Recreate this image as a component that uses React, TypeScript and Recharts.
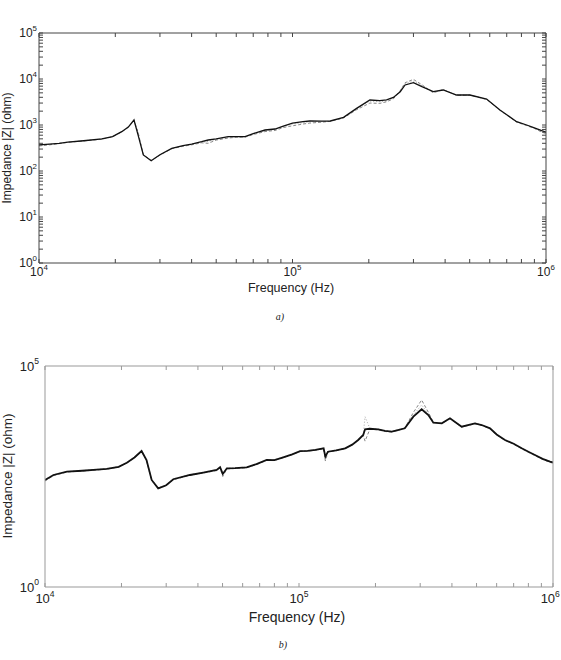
import React from 'react';
import { LineChart, Line, XAxis, YAxis } from 'recharts';

// ---- a) impedance sweep, three measurements ----
const freqA = [
  10000, 11000, 12000, 13000, 15000, 17700, 19500, 21200, 22500, 23700,
  24600, 25800, 27700, 30000, 33400, 37000, 40000, 43800, 46500, 50000,
  55800, 60000, 65000, 70000, 77900, 85300, 92000, 100000, 110000, 117000,
  130000, 141000, 159000, 179000, 202000, 221000, 235000, 250000, 266000, 278000,
  300000, 324000, 359000, 393000, 444000, 501000, 583000, 658000, 766000, 839000,
  900000, 962000, 1000000,
];
const zA1 = [
  370, 385, 400, 425, 455, 497, 560, 716, 900, 1285,
  600, 223, 167, 225, 311, 355, 385, 433, 472, 500,
  557, 560, 557, 650, 778, 818, 950, 1100, 1180, 1222,
  1210, 1222, 1469, 2302, 3491, 3373, 3500, 3985, 5297, 7413,
  8318, 6800, 5297, 5768, 4487, 4487, 3673, 2119, 1180, 1000,
  870, 751, 700,
];
const zA2 = [
  350, 370, 395, 420, 450, 490, 555, 710, 890, 1260,
  690, 225, 170, 222, 305, 345, 370, 410, 400, 470,
  520, 540, 545, 620, 720, 760, 880, 960, 1050, 1100,
  1150, 1200, 1420, 2150, 3000, 2950, 3200, 3700, 5600, 8300,
  9800, 7500, 5000, 5900, 4400, 4450, 3600, 2100, 1150, 970,
  840, 700, 650,
];
const zA3 = [
  360, 380, 400, 425, 455, 495, 560, 715, 895, 1270,
  695, 222, 168, 224, 310, 350, 380, 420, 440, 490,
  540, 550, 550, 640, 750, 800, 920, 1050, 1120, 1170,
  1180, 1210, 1450, 2250, 3300, 3200, 3350, 3850, 5500, 7900,
  9000, 7200, 5150, 5800, 4450, 4470, 3650, 2110, 1170, 990,
  860, 730, 680,
];

// ---- b) impedance sweep, three measurements ----
const freqB = [
  10000, 10800, 12200, 14000, 16000, 17500, 19500, 21000, 22500, 24000,
  25100, 26300, 27900, 30000, 32000, 37200, 42000, 47400, 48900, 50100,
  52000, 56000, 62200, 68000, 74600, 80000, 86700, 94000, 101000, 108000,
  116000, 125000, 127000, 130000, 140000, 152000, 162000, 171000, 179000, 182000,
  190000, 205000, 218000, 232000, 245000, 261000, 282000, 304000, 323000, 338000,
  365000, 393000, 437000, 493000, 524000, 565000, 600000, 647000, 700000, 753000,
  800000, 849000, 910000, 973000, 1000000,
];
const zB1 = [
  263, 342, 406, 427, 452, 468, 525, 649, 851, 1194,
  746, 264, 171, 200, 274, 342, 389, 444, 511, 361,
  484, 490, 511, 603, 746, 741, 859, 1000, 1189, 1202,
  1259, 1374, 891, 1151, 1230, 1374, 1660, 2118, 2748, 3690,
  3800, 3690, 3388, 3266, 3548, 3890, 7129, 10471, 7780, 5212,
  5047, 6546, 4236, 5047, 4624, 3890, 2818, 2118, 1738, 1374,
  1148, 968, 794, 684, 661,
];
const zB2 = [
  250, 330, 400, 420, 445, 462, 520, 640, 840, 1170,
  730, 258, 168, 196, 268, 335, 380, 430, 500, 316,
  470, 480, 500, 590, 730, 725, 845, 985, 1170, 1190,
  1240, 1350, 708, 1130, 1210, 1350, 1640, 2080, 2700, 2000,
  3700, 3600, 3300, 3200, 3500, 3950, 8900, 17000, 9000, 5400,
  5000, 6400, 4150, 4950, 4550, 3800, 2750, 2080, 1700, 1340,
  1120, 940, 770, 660, 630,
];
const zB3 = [
  270, 350, 410, 432, 458, 472, 530, 655, 860, 1210,
  760, 268, 174, 204, 280, 348, 395, 450, 520, 340,
  490, 496, 518, 610, 755, 750, 870, 1015, 1200, 1215,
  1270, 1390, 800, 1160, 1240, 1390, 1680, 2140, 2790, 7130,
  3900, 3750, 3420, 3300, 3600, 4000, 7800, 13200, 8200, 5300,
  5100, 6600, 4300, 5100, 4680, 3930, 2850, 2140, 1760, 1390,
  1160, 980, 800, 690, 668,
];

// ---- axis ticks ----
const xDecades = [1e4, 1e5, 1e6];
const yDecadesA = [1, 10, 100, 1000, 10000, 100000];
const yDecadesB = [1, 100000];

// decade ticks plus the 2..9 minor ticks between them
const withMinors = (decades: number[]) => {
  const out: number[] = [];
  for (let i = 0; i < decades.length - 1; i++) {
    for (let m = 1; m < 10; m++) out.push(decades[i] * m);
  }
  out.push(decades[decades.length - 1]);
  return out;
};
const xTicks = withMinors(xDecades);
const yTicksA = withMinors(yDecadesA);

const rowsA = freqA.map((f, i) => ({ f, z1: zA1[i], z2: zA2[i], z3: zA3[i] }));
const rowsB = freqB.map((f, i) => ({ f, z1: zB1[i], z2: zB2[i], z3: zB3[i] }));

const FONT = '"Liberation Sans", Arial, sans-serif';

const Power = ({ x, y, value, anchor, size }: any) => {
  const exp = Math.round(Math.log10(value));
  return (
    <text x={x} y={y} textAnchor={anchor} fontFamily={FONT} fontSize={size} fill="#222">
      10
      <tspan dy={-size * 0.5} fontSize={size * 0.66}>
        {exp}
      </tspan>
    </text>
  );
};

// keeps the rightmost decade label inside the page
const xLabel = (dy: number, size: number, decades: number[], maxRight: number) => (props: any) => {
  const v = props.payload.value;
  if (!decades.includes(v)) return <g />;
  const half = size * 0.75;
  const x = Math.min(props.x, maxRight - half);
  return <Power x={x} y={props.y + dy} value={v} anchor="middle" size={size} />;
};
const yLabel = (dx: number, size: number, decades: number[]) => (props: any) => {
  const v = props.payload.value;
  if (!decades.includes(v)) return <g />;
  return <Power x={props.x + dx} y={props.y + size * 0.36} value={v} anchor="end" size={size} />;
};
const noLabel = () => <g />;

type PanelProps = {
  rows: any[];
  width: number;
  height: number;
  margin: any;
  axisColor: string;
  yTicks: number[];
  yDecades: number[];
  yTickLines: boolean;
  xLabelDy: number;
  yLabelDx: number;
  labelSize: number;
  lineWidth: number;
};

const Panel = ({
  rows, width, height, margin, axisColor, yTicks, yDecades, yTickLines,
  xLabelDy, yLabelDx, labelSize, lineWidth,
}: PanelProps) => (
  <LineChart width={width} height={height} data={rows} margin={margin}>
    <XAxis
      xAxisId="bottom" dataKey="f" type="number" scale="log" domain={[1e4, 1e6]}
      allowDataOverflow ticks={xTicks} interval={0} height={20}
      tickSize={-4} tickMargin={4} tick={xLabel(xLabelDy, labelSize, xDecades, width - 1)}
      axisLine={{ stroke: axisColor }} tickLine={{ stroke: axisColor }}
    />
    <XAxis
      xAxisId="top" orientation="top" dataKey="f" type="number" scale="log" domain={[1e4, 1e6]}
      allowDataOverflow ticks={xTicks} interval={0} height={1}
      tickSize={-4} tick={noLabel}
      axisLine={{ stroke: axisColor }} tickLine={{ stroke: axisColor }}
    />
    <YAxis
      yAxisId="left" type="number" scale="log" domain={[1, 1e5]} allowDataOverflow
      ticks={yTicks} interval={0} width={30} tickSize={-4} tickMargin={4}
      tick={yLabel(yLabelDx, labelSize, yDecades)}
      axisLine={{ stroke: axisColor }} tickLine={yTickLines ? { stroke: axisColor } : false}
    />
    <YAxis
      yAxisId="right" orientation="right" type="number" scale="log" domain={[1, 1e5]}
      allowDataOverflow ticks={yTicks} interval={0} width={1} tickSize={-4} tick={noLabel}
      axisLine={{ stroke: axisColor }} tickLine={yTickLines ? { stroke: axisColor } : false}
    />
    <Line
      xAxisId="top" yAxisId="right" dataKey="z1" stroke="none" dot={false}
      isAnimationActive={false} legendType="none"
    />
    <Line
      xAxisId="bottom" yAxisId="left" dataKey="z3" type="linear" stroke="#aaa"
      strokeWidth={1} strokeDasharray="1 2" dot={false} isAnimationActive={false}
    />
    <Line
      xAxisId="bottom" yAxisId="left" dataKey="z2" type="linear" stroke="#888"
      strokeWidth={1} strokeDasharray="3 2" dot={false} isAnimationActive={false}
    />
    <Line
      xAxisId="bottom" yAxisId="left" dataKey="z1" type="linear" stroke="#111"
      strokeWidth={lineWidth} dot={false} isAnimationActive={false}
    />
  </LineChart>
);

export default function App() {
  return (
    <div style={{ position: 'absolute', left: 0, top: 0, width: 561, height: 660, background: '#fff' }}>
      <div style={{ position: 'absolute', left: 0, top: 0 }}>
        <Panel
          rows={rowsA} width={561} height={300}
          margin={{ top: 32, right: 14, bottom: 17, left: 9 }}
          axisColor="#444" yTicks={yTicksA} yDecades={yDecadesA} yTickLines
          xLabelDy={13} yLabelDx={-2} labelSize={12} lineWidth={1.3}
        />
      </div>
      <div style={{ position: 'absolute', left: 0, top: 330 }}>
        <Panel
          rows={rowsB} width={561} height={330}
          margin={{ top: 35, right: 7, bottom: 53, left: 15 }}
          axisColor="#999" yTicks={yDecadesB} yDecades={yDecadesB} yTickLines={false}
          xLabelDy={16} yLabelDx={-6} labelSize={13} lineWidth={1.8}
        />
      </div>
      <svg
        width={561} height={660}
        style={{ position: 'absolute', left: 0, top: 0, pointerEvents: 'none' }}
      >
        <text x={291} y={292} textAnchor="middle" fontFamily={FONT} fontSize={12.5} fill="#222">
          Frequency (Hz)
        </text>
        <text
          x={11} y={148} textAnchor="middle" fontFamily={FONT} fontSize={12} fill="#222"
          transform="rotate(-90 11 148)"
        >
          Impedance |Z| (ohm)
        </text>
        <text x={280} y={320} textAnchor="middle" fontFamily="'Liberation Serif', serif" fontStyle="italic" fontSize={10} fill="#222">
          a)
        </text>
        <text x={297} y={622} textAnchor="middle" fontFamily={FONT} fontSize={14} fill="#222">
          Frequency (Hz)
        </text>
        <text
          x={12} y={476} textAnchor="middle" fontFamily={FONT} fontSize={13.5} fill="#222"
          transform="rotate(-90 12 476)"
        >
          Impedance |Z| (ohm)
        </text>
        <text x={283} y={648} textAnchor="middle" fontFamily="'Liberation Serif', serif" fontStyle="italic" fontSize={10} fill="#222">
          b)
        </text>
      </svg>
    </div>
  );
}
